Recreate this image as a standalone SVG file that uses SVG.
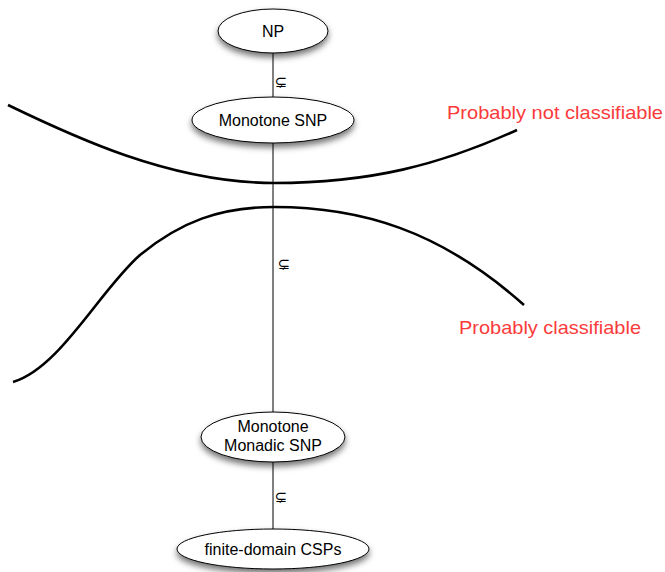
<svg xmlns="http://www.w3.org/2000/svg" width="665" height="572" viewBox="0 0 665 572">
<defs>
<filter id="sh" x="-30%" y="-30%" width="160%" height="180%">
<feDropShadow dx="0" dy="4" stdDeviation="3" flood-color="#000" flood-opacity="0.55"/>
</filter>
</defs>
<style>
.node{fill:#fff;stroke:#000;stroke-width:1;filter:url(#sh)}
.t{font-family:"Liberation Sans",Arial,sans-serif;font-size:16px;fill:#000;text-anchor:middle}
.edge{stroke:#000;stroke-width:1;fill:none}
.lbl{font-family:"DejaVu Sans",sans-serif;font-size:15px;fill:#000;text-anchor:middle}
.curve{stroke:#000;stroke-width:2.6;fill:none;stroke-linecap:butt}
.red{font-family:"Liberation Sans",Arial,sans-serif;font-size:19px;fill:#fb3b3b}
</style>
<rect width="665" height="572" fill="#fff"/>
<g id="connectors">
<line class="edge" x1="273" y1="53" x2="273" y2="97"/>
<line class="edge" x1="273" y1="143" x2="273" y2="412"/>
<line class="edge" x1="273" y1="462" x2="273" y2="529"/>
<text class="lbl" x="281" y="87">⊊</text>
<text class="lbl" x="284" y="269">⊊</text>
<text class="lbl" x="281" y="502">⊊</text>
</g>
<g id="boundaries">
<path class="curve" d="M8,105 C70,135 170,183 274,183 C370,183 440,165 517,130"/>
<path class="curve" d="M13,382 C60,368 100,290 140,255 C180,222 220,207 274,207 C360,207 440,230 524,305"/>
</g>
<g id="np">
<ellipse class="node" cx="273" cy="31" rx="55" ry="22"/>
<text class="t" x="273" y="37">NP</text>
</g>
<g id="monotone-snp">
<ellipse class="node" cx="273" cy="120" rx="81" ry="23"/>
<text class="t" x="273" y="126">Monotone SNP</text>
</g>
<g id="monotone-monadic-snp">
<ellipse class="node" cx="273" cy="437" rx="72" ry="25"/>
<text class="t" x="273" y="432">Monotone</text>
<text class="t" x="273" y="451">Monadic SNP</text>
</g>
<g id="finite-domain-csps">
<ellipse class="node" cx="273" cy="549" rx="96" ry="20"/>
<text class="t" x="273" y="555">finite-domain CSPs</text>
</g>
<g id="regions">
<text class="red" x="447" y="119" textLength="216" lengthAdjust="spacingAndGlyphs">Probably not classifiable</text>
<text class="red" x="459" y="334" textLength="182" lengthAdjust="spacingAndGlyphs">Probably classifiable</text>
</g>
</svg>
